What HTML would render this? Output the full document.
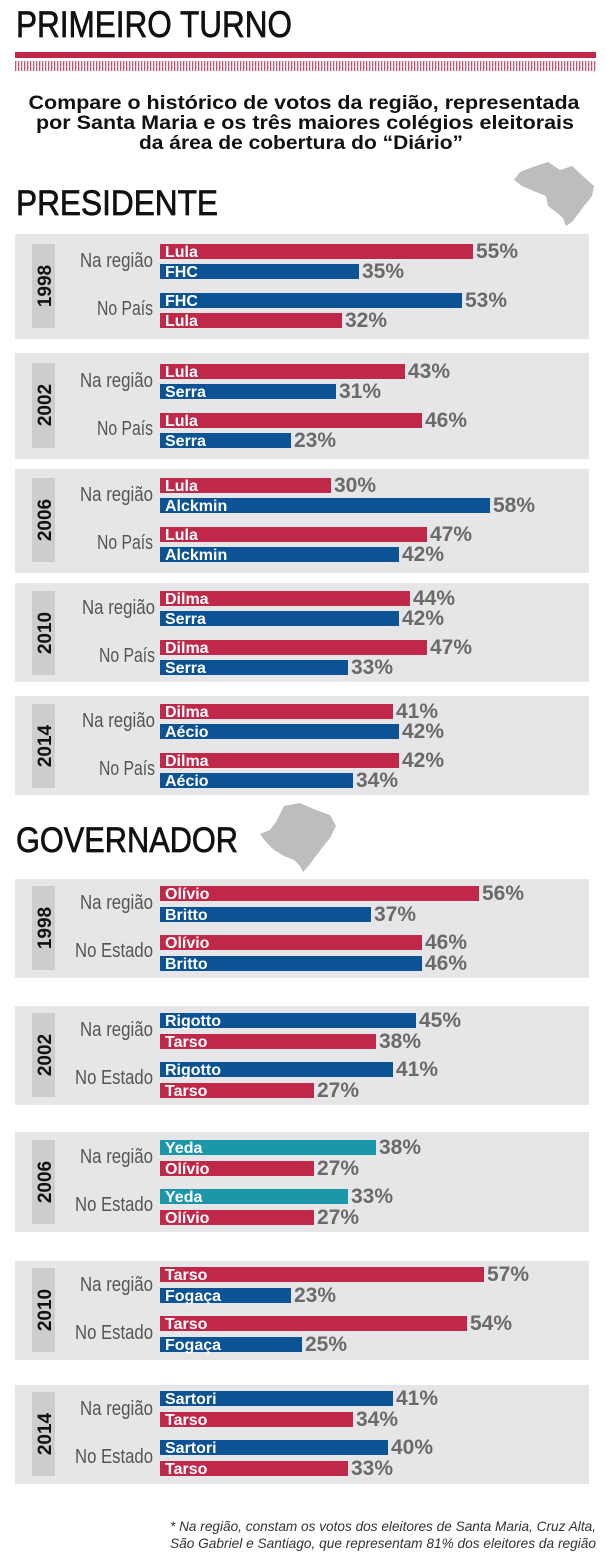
<!DOCTYPE html>
<html><head><meta charset="utf-8"><style>
html,body{margin:0;padding:0;background:#fff;}
svg{display:block;}
.t{font-family:"Liberation Sans",sans-serif;}
.bl{font-family:"Liberation Sans",sans-serif;font-weight:bold;font-size:16px;fill:#fff;}
.pc{font-family:"Liberation Sans",sans-serif;font-weight:bold;font-size:21px;fill:#6a6a6a;}
.gl{font-family:"Liberation Sans",sans-serif;font-size:20px;fill:#555;}
.yr{font-family:"Liberation Sans",sans-serif;font-weight:bold;font-size:19px;fill:#111;}
.r{fill:#c0284a}.b{fill:#0b5395}.c{fill:#1c97a9}
.pn{fill:#e6e6e8}.tg{fill:#cdcdcd}
.hd{stroke:#111;stroke-width:0.7;}
</style></head><body>
<svg width="606" height="1560" viewBox="0 0 606 1560" xmlns="http://www.w3.org/2000/svg">
<defs>
<pattern id="st" width="3" height="10" patternUnits="userSpaceOnUse"><rect x="0" y="0" width="1.3" height="10" fill="#c0284a" opacity="0.8"/></pattern>
</defs>
<text class="t hd" x="16" y="37" font-size="37" textLength="276" lengthAdjust="spacingAndGlyphs" fill="#111">PRIMEIRO TURNO</text>
<rect x="15" y="52" width="581" height="6" fill="#c0284a"/>
<rect x="15" y="61" width="581" height="10" fill="url(#st)"/>
<g class="t" font-weight="bold" font-size="19" fill="#111" text-anchor="middle">
<text x="304" y="109" textLength="551" lengthAdjust="spacingAndGlyphs">Compare o histórico de votos da região, representada</text>
<text x="305" y="129" textLength="538" lengthAdjust="spacingAndGlyphs">por Santa Maria e os três maiores colégios eleitorais</text>
<text x="301" y="149" textLength="324" lengthAdjust="spacingAndGlyphs">da área de cobertura do “Diário”</text>
</g>
<path d="M530 168 L548 162 L560 170 L572 166 L585 178 L594 186 L592 196 L584 206 L578 214 L572 222 L566 226 L563 218 L556 212 L548 206 L546 196 L536 192 L522 186 L514 180 L520 172 Z" fill="#bdbdbd"/>
<text class="t hd" x="16" y="215" font-size="35" textLength="202" lengthAdjust="spacingAndGlyphs" fill="#111">PRESIDENTE</text>

<!-- PRESIDENTE 1998 -->
<g transform="translate(0,234)">
<rect class="pn" x="15" y="0" width="574" height="105"/><rect class="tg" x="32" y="10" width="23" height="84"/>
<text class="yr" transform="translate(51,52) rotate(-90)" text-anchor="middle">1998</text>
<text class="gl" x="153" y="33" text-anchor="end" textLength="73" lengthAdjust="spacingAndGlyphs">Na região</text>
<text class="gl" x="153" y="81" text-anchor="end" textLength="56" lengthAdjust="spacingAndGlyphs">No País</text>
<rect class="r" x="160" y="10" width="313" height="15"/><text class="bl" x="165" y="23">Lula</text><text class="pc" x="476" y="24">55%</text>
<rect class="b" x="160" y="30" width="199" height="15"/><text class="bl" x="165" y="43">FHC</text><text class="pc" x="362" y="44">35%</text>
<rect class="b" x="160" y="59" width="302" height="15"/><text class="bl" x="165" y="72">FHC</text><text class="pc" x="465" y="73">53%</text>
<rect class="r" x="160" y="79" width="182" height="15"/><text class="bl" x="165" y="92">Lula</text><text class="pc" x="345" y="93">32%</text>
</g>
<!-- 2002 -->
<g transform="translate(0,353)">
<rect class="pn" x="15" y="0" width="574" height="106"/><rect class="tg" x="32" y="10" width="23" height="85"/>
<text class="yr" transform="translate(51,52) rotate(-90)" text-anchor="middle">2002</text>
<text class="gl" x="153" y="34" text-anchor="end" textLength="73" lengthAdjust="spacingAndGlyphs">Na região</text>
<text class="gl" x="153" y="82" text-anchor="end" textLength="56" lengthAdjust="spacingAndGlyphs">No País</text>
<rect class="r" x="160" y="11" width="245" height="15"/><text class="bl" x="165" y="24">Lula</text><text class="pc" x="408" y="25">43%</text>
<rect class="b" x="160" y="31" width="176" height="15"/><text class="bl" x="165" y="44">Serra</text><text class="pc" x="339" y="45">31%</text>
<rect class="r" x="160" y="60" width="262" height="15"/><text class="bl" x="165" y="73">Lula</text><text class="pc" x="425" y="74">46%</text>
<rect class="b" x="160" y="80" width="131" height="15"/><text class="bl" x="165" y="93">Serra</text><text class="pc" x="294" y="94">23%</text>
</g>
<!-- 2006 -->
<g transform="translate(0,469)">
<rect class="pn" x="15" y="0" width="574" height="104"/><rect class="tg" x="32" y="9" width="23" height="84"/>
<text class="yr" transform="translate(51,51) rotate(-90)" text-anchor="middle">2006</text>
<text class="gl" x="153" y="32" text-anchor="end" textLength="73" lengthAdjust="spacingAndGlyphs">Na região</text>
<text class="gl" x="153" y="80" text-anchor="end" textLength="56" lengthAdjust="spacingAndGlyphs">No País</text>
<rect class="r" x="160" y="9" width="171" height="15"/><text class="bl" x="165" y="22">Lula</text><text class="pc" x="334" y="23">30%</text>
<rect class="b" x="160" y="29" width="330" height="15"/><text class="bl" x="165" y="42">Alckmin</text><text class="pc" x="493" y="43">58%</text>
<rect class="r" x="160" y="58" width="267" height="15"/><text class="bl" x="165" y="71">Lula</text><text class="pc" x="430" y="72">47%</text>
<rect class="b" x="160" y="78" width="239" height="15"/><text class="bl" x="165" y="91">Alckmin</text><text class="pc" x="402" y="92">42%</text>
</g>
<!-- 2010 -->
<g transform="translate(0,583)">
<rect class="pn" x="15" y="0" width="574" height="99"/><rect class="tg" x="32" y="8" width="23" height="84"/>
<text class="yr" transform="translate(51,50) rotate(-90)" text-anchor="middle">2010</text>
<text class="gl" x="155" y="31" text-anchor="end" textLength="73" lengthAdjust="spacingAndGlyphs">Na região</text>
<text class="gl" x="155" y="79" text-anchor="end" textLength="56" lengthAdjust="spacingAndGlyphs">No País</text>
<rect class="r" x="160" y="8" width="250" height="15"/><text class="bl" x="165" y="21">Dilma</text><text class="pc" x="413" y="22">44%</text>
<rect class="b" x="160" y="28" width="239" height="15"/><text class="bl" x="165" y="41">Serra</text><text class="pc" x="402" y="42">42%</text>
<rect class="r" x="160" y="57" width="267" height="15"/><text class="bl" x="165" y="70">Dilma</text><text class="pc" x="430" y="71">47%</text>
<rect class="b" x="160" y="77" width="188" height="15"/><text class="bl" x="165" y="90">Serra</text><text class="pc" x="351" y="91">33%</text>
</g>
<!-- 2014 -->
<g transform="translate(0,696)">
<rect class="pn" x="15" y="0" width="574" height="99"/><rect class="tg" x="32" y="8" width="23" height="84"/>
<text class="yr" transform="translate(51,50) rotate(-90)" text-anchor="middle">2014</text>
<text class="gl" x="155" y="31" text-anchor="end" textLength="73" lengthAdjust="spacingAndGlyphs">Na região</text>
<text class="gl" x="155" y="79" text-anchor="end" textLength="56" lengthAdjust="spacingAndGlyphs">No País</text>
<rect class="r" x="160" y="8" width="233" height="15"/><text class="bl" x="165" y="21">Dilma</text><text class="pc" x="396" y="22">41%</text>
<rect class="b" x="160" y="28" width="239" height="15"/><text class="bl" x="165" y="41">Aécio</text><text class="pc" x="402" y="42">42%</text>
<rect class="r" x="160" y="57" width="239" height="15"/><text class="bl" x="165" y="70">Dilma</text><text class="pc" x="402" y="71">42%</text>
<rect class="b" x="160" y="77" width="193" height="15"/><text class="bl" x="165" y="90">Aécio</text><text class="pc" x="356" y="91">34%</text>
</g>

<path d="M284 806 L300 803 L316 810 L330 815 L336 826 L330 838 L322 848 L316 856 L310 864 L303 872 L300 866 L294 860 L284 856 L274 850 L266 842 L260 834 L270 830 L276 822 Z" fill="#bdbdbd"/>
<text class="t hd" x="16" y="852" font-size="35" textLength="222" lengthAdjust="spacingAndGlyphs" fill="#111">GOVERNADOR</text>

<!-- GOV 1998 -->
<g transform="translate(0,879)">
<rect class="pn" x="15" y="0" width="574" height="99"/><rect class="tg" x="32" y="7" width="23" height="84"/>
<text class="yr" transform="translate(51,49) rotate(-90)" text-anchor="middle">1998</text>
<text class="gl" x="153" y="30" text-anchor="end" textLength="73" lengthAdjust="spacingAndGlyphs">Na região</text>
<text class="gl" x="153" y="78" text-anchor="end" textLength="78" lengthAdjust="spacingAndGlyphs">No Estado</text>
<rect class="r" x="160" y="7" width="319" height="15"/><text class="bl" x="165" y="20">Olívio</text><text class="pc" x="482" y="21">56%</text>
<rect class="b" x="160" y="28" width="211" height="15"/><text class="bl" x="165" y="41">Britto</text><text class="pc" x="374" y="42">37%</text>
<rect class="r" x="160" y="56" width="262" height="15"/><text class="bl" x="165" y="69">Olívio</text><text class="pc" x="425" y="70">46%</text>
<rect class="b" x="160" y="77" width="262" height="15"/><text class="bl" x="165" y="90">Britto</text><text class="pc" x="425" y="91">46%</text>
</g>
<!-- GOV 2002 -->
<g transform="translate(0,1006)">
<rect class="pn" x="15" y="0" width="574" height="99"/><rect class="tg" x="32" y="7" width="23" height="84"/>
<text class="yr" transform="translate(51,49) rotate(-90)" text-anchor="middle">2002</text>
<text class="gl" x="153" y="30" text-anchor="end" textLength="73" lengthAdjust="spacingAndGlyphs">Na região</text>
<text class="gl" x="153" y="78" text-anchor="end" textLength="78" lengthAdjust="spacingAndGlyphs">No Estado</text>
<rect class="b" x="160" y="7" width="256" height="15"/><text class="bl" x="165" y="20">Rigotto</text><text class="pc" x="419" y="21">45%</text>
<rect class="r" x="160" y="28" width="216" height="15"/><text class="bl" x="165" y="41">Tarso</text><text class="pc" x="379" y="42">38%</text>
<rect class="b" x="160" y="56" width="233" height="15"/><text class="bl" x="165" y="69">Rigotto</text><text class="pc" x="396" y="70">41%</text>
<rect class="r" x="160" y="77" width="154" height="15"/><text class="bl" x="165" y="90">Tarso</text><text class="pc" x="317" y="91">27%</text>
</g>
<!-- GOV 2006 -->
<g transform="translate(0,1132)">
<rect class="pn" x="15" y="0" width="574" height="100"/><rect class="tg" x="32" y="8" width="23" height="84"/>
<text class="yr" transform="translate(51,50) rotate(-90)" text-anchor="middle">2006</text>
<text class="gl" x="153" y="31" text-anchor="end" textLength="73" lengthAdjust="spacingAndGlyphs">Na região</text>
<text class="gl" x="153" y="79" text-anchor="end" textLength="78" lengthAdjust="spacingAndGlyphs">No Estado</text>
<rect class="c" x="160" y="8" width="216" height="15"/><text class="bl" x="165" y="21">Yeda</text><text class="pc" x="379" y="22">38%</text>
<rect class="r" x="160" y="29" width="154" height="15"/><text class="bl" x="165" y="42">Olívio</text><text class="pc" x="317" y="43">27%</text>
<rect class="c" x="160" y="57" width="188" height="15"/><text class="bl" x="165" y="70">Yeda</text><text class="pc" x="351" y="71">33%</text>
<rect class="r" x="160" y="78" width="154" height="15"/><text class="bl" x="165" y="91">Olívio</text><text class="pc" x="317" y="92">27%</text>
</g>
<!-- GOV 2010 -->
<g transform="translate(0,1261)">
<rect class="pn" x="15" y="0" width="574" height="99"/><rect class="tg" x="32" y="7" width="23" height="84"/>
<text class="yr" transform="translate(51,49) rotate(-90)" text-anchor="middle">2010</text>
<text class="gl" x="153" y="30" text-anchor="end" textLength="73" lengthAdjust="spacingAndGlyphs">Na região</text>
<text class="gl" x="153" y="78" text-anchor="end" textLength="78" lengthAdjust="spacingAndGlyphs">No Estado</text>
<rect class="r" x="160" y="6" width="324" height="15"/><text class="bl" x="165" y="19">Tarso</text><text class="pc" x="487" y="20">57%</text>
<rect class="b" x="160" y="27" width="131" height="15"/><text class="bl" x="165" y="40">Fogaça</text><text class="pc" x="294" y="41">23%</text>
<rect class="r" x="160" y="55" width="307" height="15"/><text class="bl" x="165" y="68">Tarso</text><text class="pc" x="470" y="69">54%</text>
<rect class="b" x="160" y="76" width="142" height="15"/><text class="bl" x="165" y="89">Fogaça</text><text class="pc" x="305" y="90">25%</text>
</g>
<!-- GOV 2014 -->
<g transform="translate(0,1385)">
<rect class="pn" x="15" y="0" width="574" height="99"/><rect class="tg" x="32" y="7" width="23" height="84"/>
<text class="yr" transform="translate(51,49) rotate(-90)" text-anchor="middle">2014</text>
<text class="gl" x="153" y="30" text-anchor="end" textLength="73" lengthAdjust="spacingAndGlyphs">Na região</text>
<text class="gl" x="153" y="78" text-anchor="end" textLength="78" lengthAdjust="spacingAndGlyphs">No Estado</text>
<rect class="b" x="160" y="6" width="233" height="15"/><text class="bl" x="165" y="19">Sartori</text><text class="pc" x="396" y="20">41%</text>
<rect class="r" x="160" y="27" width="193" height="15"/><text class="bl" x="165" y="40">Tarso</text><text class="pc" x="356" y="41">34%</text>
<rect class="b" x="160" y="55" width="228" height="15"/><text class="bl" x="165" y="68">Sartori</text><text class="pc" x="391" y="69">40%</text>
<rect class="r" x="160" y="76" width="188" height="15"/><text class="bl" x="165" y="89">Tarso</text><text class="pc" x="351" y="90">33%</text>
</g>

<g class="t" font-style="italic" font-size="14" fill="#333" text-anchor="end">
<text x="596" y="1531" textLength="426" lengthAdjust="spacingAndGlyphs">* Na região, constam os votos dos eleitores de Santa Maria, Cruz Alta,</text>
<text x="596" y="1548" textLength="426" lengthAdjust="spacingAndGlyphs">São Gabriel e Santiago, que representam 81% dos eleitores da região</text>
</g>
</svg>
</body></html>
